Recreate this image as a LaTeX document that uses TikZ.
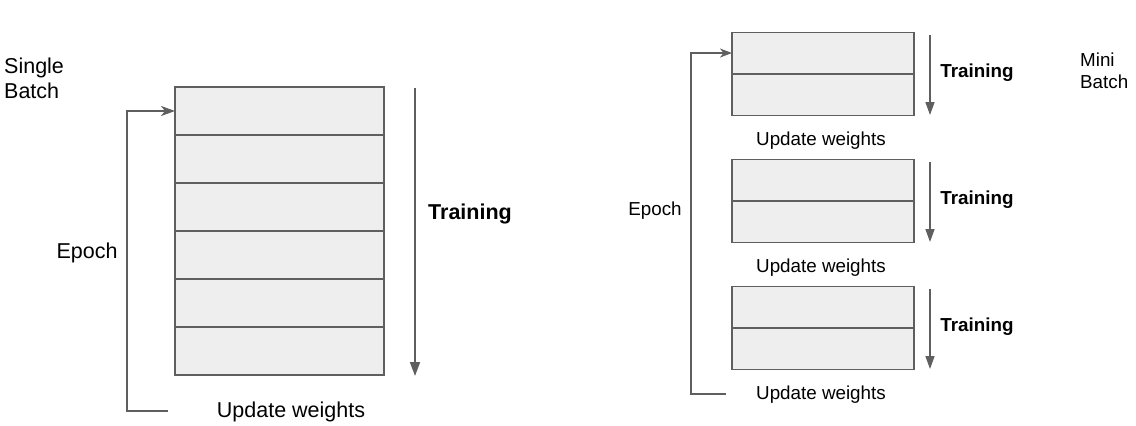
\documentclass[tikz,border=0pt]{standalone}
\usepackage{fontspec}
\setmainfont{Liberation Sans}
\usetikzlibrary{arrows.meta}
\definecolor{linegray}{HTML}{5F5F5F}
\definecolor{cellfill}{HTML}{EEEEEE}
\begin{document}
\begin{tikzpicture}[x=1pt,y=-1pt,
  bigcell/.style={draw=linegray,fill=cellfill,line width=2pt,minimum width=209pt,minimum height=48pt,inner sep=0pt,outer sep=0pt},
  smallcell/.style={draw=linegray,fill=cellfill,line width=1.5pt,minimum width=182pt,minimum height=41.5pt,inner sep=0pt,outer sep=0pt},
  bigtxt/.style={font=\fontsize{21.5}{25}\selectfont,text=black,inner sep=0pt},
  smalltxt/.style={font=\fontsize{18.8}{22}\selectfont,text=black,inner sep=0pt},
  loopline/.style={draw=linegray,line width=1.8pt,-{Stealth[length=14pt,width=10pt,inset=4pt]}},
  looplinesmall/.style={draw=linegray,line width=1.5pt,-{Stealth[length=12pt,width=9pt,inset=3.5pt]}},
  trainarrow/.style={draw=linegray,line width=1.8pt,-{Triangle[length=14pt,width=10pt]}},
  trainarrowsmall/.style={draw=linegray,line width=1.5pt,-{Triangle[length=13pt,width=9pt]}}
]
\useasboundingbox (0,0) rectangle (1136,426);
% ---- Left: single batch ----
\foreach \k in {0,...,5} {
  \node[bigcell] (L\k) at (279.5,{111+48*\k}) {};
}
\node[bigtxt,anchor=west,align=left] (single) at (4,78) {Single\\Batch};
\node[bigtxt] (epochL) at (87,253) {Epoch};
\node[bigtxt] (updL) at (291,412) {Update weights};
\node[bigtxt,font=\fontsize{21.5}{25}\selectfont\bfseries] (trainL) at (470,214) {Training};
\coordinate (lb) at (168,411);
\coordinate (lc) at (127,411);
\coordinate (lt) at (127,111);
\draw[loopline] (lb) -- (lc) -- (lt) -- (L0.west);
\coordinate (ta) at (415,88);
\coordinate (tb) at (415,376);
\draw[trainarrow] (ta) -- (tb);
% ---- Right: mini batch ----
\foreach \s/\yy in {1/53,2/180,3/307} {
  \node[smallcell] (R\s a) at (823,\yy) {};
  \node[smallcell] (R\s b) at (823,{\yy+41.5}) {};
  \coordinate (RT\s) at (930,{\yy-18});
  \coordinate (RB\s) at (930,{\yy+62});
  \draw[trainarrowsmall] (RT\s) -- (RB\s);
  \node[smalltxt,font=\fontsize{18.8}{22}\selectfont\bfseries] (train\s) at (977,{\yy+19.5}) {Training};
  \node[smalltxt] (upd\s) at (821,{\yy+88}) {Update weights};
}
\node[smalltxt,anchor=west,align=left] (mini) at (1080,71) {Mini\\Batch};
\node[smalltxt] (epochR) at (655,210.5) {Epoch};
\coordinate (rb) at (726,394);
\coordinate (rc) at (691,394);
\coordinate (rt) at (691,53);
\draw[looplinesmall] (rb) -- (rc) -- (rt) -- (R1a.west);
\end{tikzpicture}
\end{document}
